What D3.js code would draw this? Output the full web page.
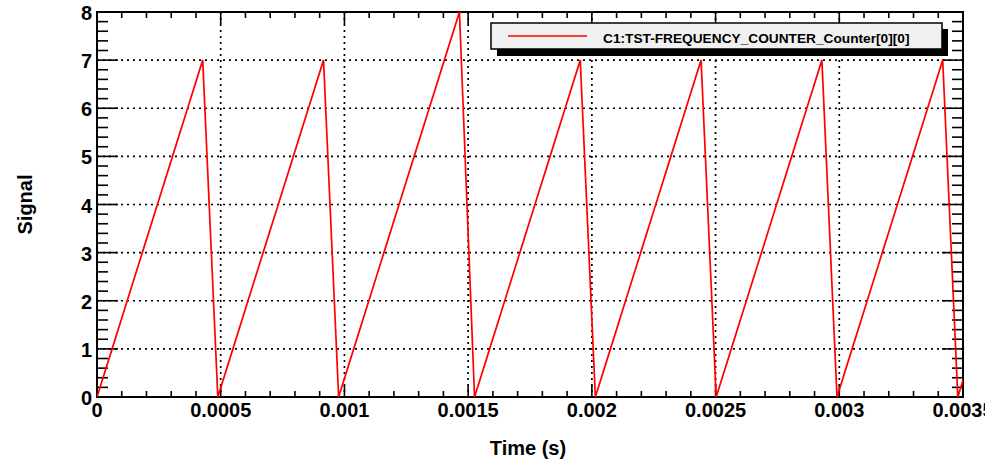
<!DOCTYPE html>
<html>
<head>
<meta charset="utf-8">
<script src="https://cdn.jsdelivr.net/npm/d3@7"></script>
<style>
  html, body { margin: 0; padding: 0; background: #fff; }
  svg { display: block; font-family: "Liberation Sans", Arial, Helvetica, sans-serif; font-weight: bold; }
</style>
</head>
<body>
<div id="viz"></div>
<script>
// ── DATA ─────────────────────────────────────────────────────────────────────
const sampleRate = 16384;          // samples per second
const channel = "C1:TST-FREQUENCY_COUNTER_Counter[0][0]";
// counter value read at each sample
const counts = [
  0, 1, 2, 3, 4, 5, 6, 7,
  0, 1, 2, 3, 4, 5, 6, 7,
  0, 1, 2, 3, 4, 5, 6, 7, 8,
  0, 1, 2, 3, 4, 5, 6, 7,
  0, 1, 2, 3, 4, 5, 6, 7,
  0, 1, 2, 3, 4, 5, 6, 7,
  0, 1, 2, 3, 4, 5, 6, 7,
  0, 1
];
const xTicks = [0, 0.0005, 0.001, 0.0015, 0.002, 0.0025, 0.003, 0.0035];
const xTickLabels = ["0", "0.0005", "0.001", "0.0015", "0.002", "0.0025", "0.003", "0.0035"];
const yTicks = [0, 1, 2, 3, 4, 5, 6, 7, 8];
const xTitle = "Time (s)", yTitle = "Signal";

// ── SETTINGS ────────────────────────────────────────────────────────────────
const width = 985, height = 464;
const frame = { left: 97, right: 963, top: 12, bottom: 397 };

const svg = d3.select("#viz").append("svg")
    .attr("viewBox", [0, 0, width, height])
    .attr("width", width)
    .attr("height", height);

const x = d3.scaleLinear().domain([0, 0.0035]).range([frame.left, frame.right]);
const y = d3.scaleLinear().domain([0, 8]).range([frame.bottom, frame.top]);

const data = counts.map((v, i) => ({ t: i / sampleRate, v }));

// ── GRID ─────────────────────────────────────────────────────────────────────
const grid = svg.append("g")
    .attr("stroke", "#000")
    .attr("stroke-width", 1.7)
    .attr("stroke-dasharray", "2,4");

grid.selectAll("line.gx")
  .data(xTicks.slice(1, -1))
  .join("line")
    .attr("class", "gx")
    .attr("x1", d => x(d)).attr("x2", d => x(d))
    .attr("y1", frame.top).attr("y2", frame.bottom);

grid.selectAll("line.gy")
  .data(yTicks.slice(1, -1))
  .join("line")
    .attr("class", "gy")
    .attr("x1", frame.left).attr("x2", frame.right)
    .attr("y1", d => y(d)).attr("y2", d => y(d));

// ── TICKS (ROOT style: major + minor on all four sides) ──────────────────────
const xMinor = d3.range(0, 36).map(i => i * 0.0001);
const yMinor = d3.range(0, 41).map(i => i * 0.2);
const ticks = svg.append("g").attr("stroke", "#000").attr("stroke-width", 1.6);

ticks.selectAll("line.xb")
  .data(xMinor)
  .join("line")
    .attr("class", "xb")
    .attr("x1", d => x(d)).attr("x2", d => x(d))
    .attr("y1", frame.bottom)
    .attr("y2", (d, i) => frame.bottom - (i % 5 === 0 ? 12 : 6));

ticks.selectAll("line.xt")
  .data(xMinor)
  .join("line")
    .attr("class", "xt")
    .attr("x1", d => x(d)).attr("x2", d => x(d))
    .attr("y1", frame.top)
    .attr("y2", (d, i) => frame.top + (i % 5 === 0 ? 12 : 6));

ticks.selectAll("line.yl")
  .data(yMinor)
  .join("line")
    .attr("class", "yl")
    .attr("y1", d => y(d)).attr("y2", d => y(d))
    .attr("x1", frame.left)
    .attr("x2", (d, i) => frame.left + (i % 5 === 0 ? 21 : 11));

ticks.selectAll("line.yr")
  .data(yMinor)
  .join("line")
    .attr("class", "yr")
    .attr("y1", d => y(d)).attr("y2", d => y(d))
    .attr("x1", frame.right)
    .attr("x2", (d, i) => frame.right - (i % 5 === 0 ? 21 : 11));

// ── FRAME ────────────────────────────────────────────────────────────────────
svg.append("rect")
    .attr("x", frame.left).attr("y", frame.top)
    .attr("width", frame.right - frame.left)
    .attr("height", frame.bottom - frame.top)
    .attr("fill", "none")
    .attr("stroke", "#000")
    .attr("stroke-width", 2);

// ── SERIES ───────────────────────────────────────────────────────────────────
svg.append("clipPath").attr("id", "clip")
  .append("rect")
    .attr("x", frame.left).attr("y", frame.top - 6)
    .attr("width", frame.right - frame.left)
    .attr("height", frame.bottom - frame.top + 10);

const line = d3.line().x(d => x(d.t)).y(d => y(d.v));

svg.append("path")
    .datum(data)
    .attr("clip-path", "url(#clip)")
    .attr("fill", "none")
    .attr("stroke", "#ff0000")
    .attr("stroke-width", 1.7)
    .attr("stroke-linejoin", "miter")
    .attr("d", line);

// ── TICK LABELS ──────────────────────────────────────────────────────────────
svg.append("g")
  .selectAll("text")
  .data(xTicks)
  .join("text")
    .attr("x", d => x(d))
    .attr("y", 417)
    .attr("text-anchor", "middle")
    .attr("font-size", "20px")
    .text((d, i) => xTickLabels[i]);

svg.append("g")
  .selectAll("text")
  .data(yTicks)
  .join("text")
    .attr("x", frame.left - 5)
    .attr("y", d => y(d) + 8)
    .attr("text-anchor", "end")
    .attr("font-size", "20px")
    .text(d => d);

// ── AXIS TITLES ──────────────────────────────────────────────────────────────
svg.append("text")
    .attr("x", (frame.left + frame.right) / 2 - 2)
    .attr("y", 455)
    .attr("text-anchor", "middle")
    .attr("font-size", "20px")
    .text(xTitle);

svg.append("text")
    .attr("transform", `translate(32,${(frame.top + frame.bottom) / 2}) rotate(-90)`)
    .attr("text-anchor", "middle")
    .attr("font-size", "20px")
    .text(yTitle);

// ── LEGEND ───────────────────────────────────────────────────────────────────
const legend = svg.append("g");
legend.append("rect")
    .attr("x", 497).attr("y", 29)
    .attr("width", 451).attr("height", 27)
    .attr("fill", "#000");
legend.append("rect")
    .attr("x", 491).attr("y", 23)
    .attr("width", 451).attr("height", 26)
    .attr("fill", "#f0f0f0")
    .attr("stroke", "#000")
    .attr("stroke-width", 1.5);
legend.append("line")
    .attr("x1", 508).attr("x2", 587)
    .attr("y1", 36).attr("y2", 36)
    .attr("stroke", "#ff0000")
    .attr("stroke-width", 1.6);
legend.append("text")
    .attr("x", 603)
    .attr("y", 42.5)
    .attr("font-size", "13.7px")
    .text(channel);
</script>
</body>
</html>
